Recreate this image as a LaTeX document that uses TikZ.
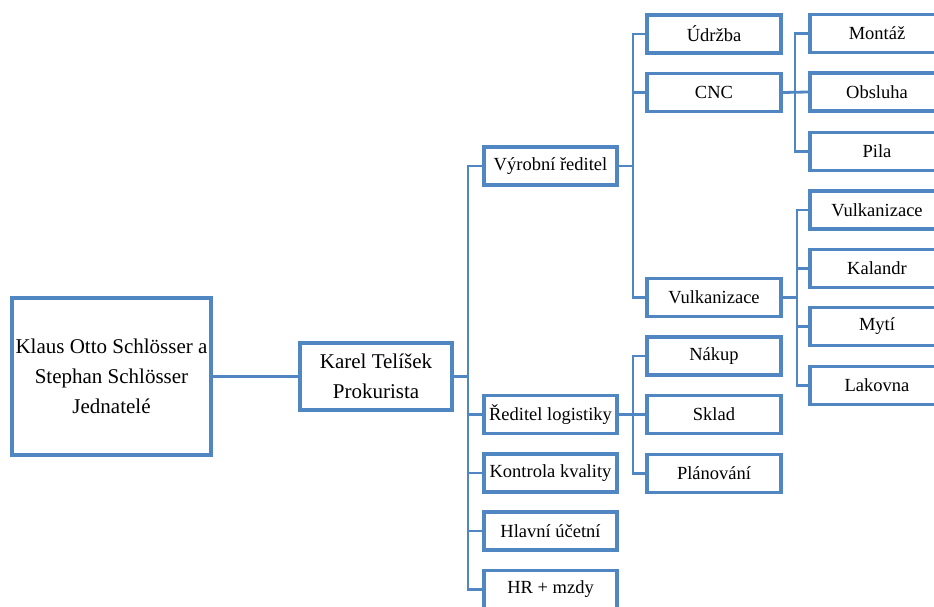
\documentclass[tikz,border=0pt]{standalone}
\usepackage{fontspec}
\setmainfont{Liberation Serif}
\definecolor{boxblue}{HTML}{5087C2}
\begin{document}
\begin{tikzpicture}[x=1pt,y=-1pt,
  box/.style={draw=boxblue,line width=3.8pt,fill=white,inner sep=0pt,align=center},
  bigbox/.style={box,font=\fontsize{21}{30}\selectfont},
  unit/.style={box,minimum height=38pt,font=\fontsize{18.5}{22}\selectfont},
  lvlA/.style={unit,minimum width=133pt},
  lvlB/.style={unit,minimum width=134pt},
  conn/.style={draw=boxblue,line width=2.8pt}]
\useasboundingbox (0,0) rectangle (934,607);
\clip (0,0) rectangle (934,607);

% top of the chart
\node[bigbox,minimum width=199.2pt,minimum height=157.2pt] (root) at (111.5,376.5)
  {Klaus Otto Schlösser a\\Stephan Schlösser\\Jednatelé};
\node[bigbox,minimum width=152.2pt,minimum height=67.2pt] (karel) at (376,376.5)
  {Karel Telíšek\\Prokurista};

% second level
\node[lvlA] (vyr) at (550.5,166) {Výrobní ředitel};
\node[lvlA] (log) at (550.5,414.5) {Ředitel logistiky};
\node[lvlA] (kon) at (550.5,473) {Kontrola kvality};
\node[lvlA] (uct) at (550.5,531) {Hlavní účetní};
\node[lvlA] (hr)  at (550.5,589.5) {HR + mzdy};

% third level
\node[lvlB] (udr) at (714,34) {Údržba};
\node[lvlB] (cnc) at (714,92.5) {CNC};
\node[lvlB] (vul) at (714,297.5) {Vulkanizace};
\node[lvlB] (nak) at (714,356) {Nákup};
\node[lvlB] (skl) at (714,414.5) {Sklad};
\node[lvlB] (pla) at (714,473.5) {Plánování};

% fourth level
\node[lvlB] (mon) at (877,33.5) {Montáž};
\node[lvlB] (obs) at (877,92) {Obsluha};
\node[lvlB] (pil) at (877,151.5) {Pila};
\node[lvlB] (vk2) at (877,210) {Vulkanizace};
\node[lvlB] (kal) at (877,268.5) {Kalandr};
\node[lvlB] (myt) at (877,326.5) {Mytí};
\node[lvlB] (lak) at (877,385.5) {Lakovna};

% trunk positions
\coordinate (t1) at (468,0);
\coordinate (t2) at (633,0);
\coordinate (t3) at (795,0);
\coordinate (t4) at (797,0);

\begin{scope}[on background layer/.try]
\draw[conn] (root.east) -- (karel.west);
% Karel -> second level
\draw[conn] (karel.east) -- (karel.east -| t1);
\draw[conn] (vyr.west) -| (t1 |- hr.west) -- (hr.west);
\draw[conn] (t1 |- log.west) -- (log.west);
\draw[conn] (t1 |- kon.west) -- (kon.west);
\draw[conn] (t1 |- uct.west) -- (uct.west);
% Výrobní ředitel -> third level
\draw[conn] (vyr.east) -- (vyr.east -| t2);
\draw[conn] (udr.west) -| (t2 |- vul.west) -- (vul.west);
\draw[conn] (t2 |- cnc.west) -- (cnc.west);
% Ředitel logistiky -> third level
\draw[conn] (log.east) -- (skl.west);
\draw[conn] (nak.west) -| (t2 |- pla.west) -- (pla.west);
% CNC -> fourth level
\draw[conn] (cnc.east) -- (obs.west);
\draw[conn] (mon.west) -| (t3 |- pil.west) -- (pil.west);
% Vulkanizace -> fourth level
\draw[conn] (vul.east) -- (vul.east -| t4);
\draw[conn] (vk2.west) -| (t4 |- lak.west) -- (lak.west);
\draw[conn] (t4 |- kal.west) -- (kal.west);
\draw[conn] (t4 |- myt.west) -- (myt.west);
\end{scope}
\end{tikzpicture}
\end{document}
